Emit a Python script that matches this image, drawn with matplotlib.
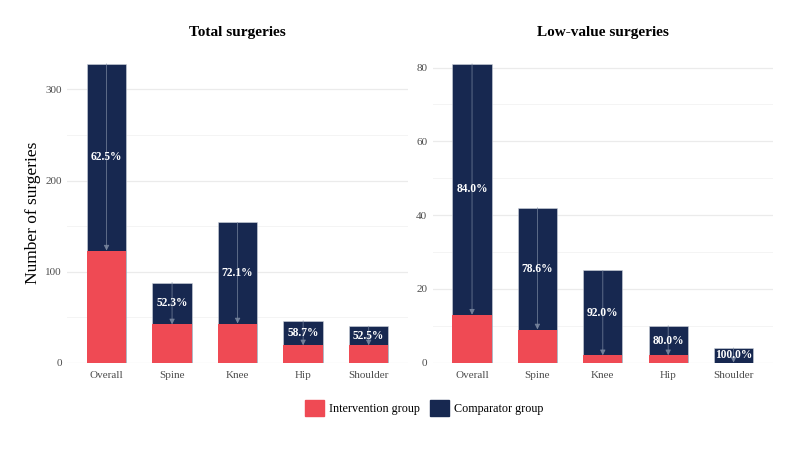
"""Total and low-value surgeries, intervention vs comparator group."""
import numpy as np
import matplotlib.pyplot as plt
from matplotlib.patches import Patch

plt.rcParams['font.family'] = ['Liberation Serif', 'DejaVu Serif']

categories = ['Overall', 'Spine', 'Knee', 'Hip', 'Shoulder']

total_comparator = [328, 88, 154, 46, 40]
total_intervention = [123, 42, 43, 19, 19]

lowvalue_comparator = [81, 42, 25, 10, 4]
lowvalue_intervention = [13, 9, 2, 2, 0]

total_ticks = [0, 100, 200, 300]
total_minor = [50, 150, 250]
lowvalue_ticks = [0, 20, 40, 60, 80]
lowvalue_minor = [10, 30, 50, 70]

RED = '#EF4A54'
NAVY = '#172850'
ARROW = '#7d8aa2'
GRID = '#ebebeb'


def draw_panel(ax, comp, interv, ticks, minor, title):
    x = np.arange(len(categories))
    ax.bar(x, comp, width=0.6, color=NAVY, edgecolor='#d0d4dc',
           linewidth=0.4, zorder=2)
    ax.bar(x, interv, width=0.6, color=RED, linewidth=0, zorder=3)
    for xi, c, i in zip(x, comp, interv):
        ax.annotate('', xy=(xi, i), xytext=(xi, c),
                    arrowprops=dict(arrowstyle='-|>', color=ARROW, lw=0.6,
                                    alpha=0.8, mutation_scale=8,
                                    shrinkA=0, shrinkB=0),
                    zorder=4)
        pct = (1 - i / c) * 100
        ax.text(xi, (c + i) / 2, f'{pct:.1f}%', ha='center', va='center',
                color='white', fontsize=8.3, fontweight='bold', zorder=5)
    ax.set_xlim(-0.6, len(categories) - 0.4)
    ax.set_ylim(0, max(comp))
    ax.set_xticks(x)
    ax.set_xticklabels(categories)
    ax.set_yticks(ticks)
    ax.set_yticks(minor, minor=True)
    ax.grid(axis='y', which='major', color=GRID, lw=0.9, zorder=0)
    ax.grid(axis='y', which='minor', color='#f2f2f2', lw=0.6, zorder=0)
    ax.tick_params(axis='both', which='both', length=0, labelsize=8,
                   labelcolor='#4d4d4d', pad=4)
    ax.tick_params(axis='x', pad=6)
    for s in ax.spines.values():
        s.set_visible(False)
    ax.set_axisbelow(True)
    ax.set_title(title, fontsize=11, fontweight='bold', pad=20)


fig = plt.figure(figsize=(8, 4.5), dpi=100)
ax1 = fig.add_axes([0.084, 0.194, 0.426, 0.664])
ax2 = fig.add_axes([0.541, 0.194, 0.425, 0.664])

draw_panel(ax1, total_comparator, total_intervention, total_ticks,
           total_minor, 'Total surgeries')
draw_panel(ax2, lowvalue_comparator, lowvalue_intervention, lowvalue_ticks,
           lowvalue_minor, 'Low-value surgeries')
ax1.set_ylabel('Number of surgeries', fontsize=12.5, labelpad=3)

handles = [Patch(color=RED, label='Intervention group'),
           Patch(color=NAVY, label='Comparator group')]
fig.legend(handles=handles, loc='center', bbox_to_anchor=(0.53, 0.093),
           ncol=2, frameon=False, fontsize=8.7, handlelength=1.6,
           handleheight=1.6, handletextpad=0.4, columnspacing=0.8)

fig.savefig('out.png', dpi=100)
